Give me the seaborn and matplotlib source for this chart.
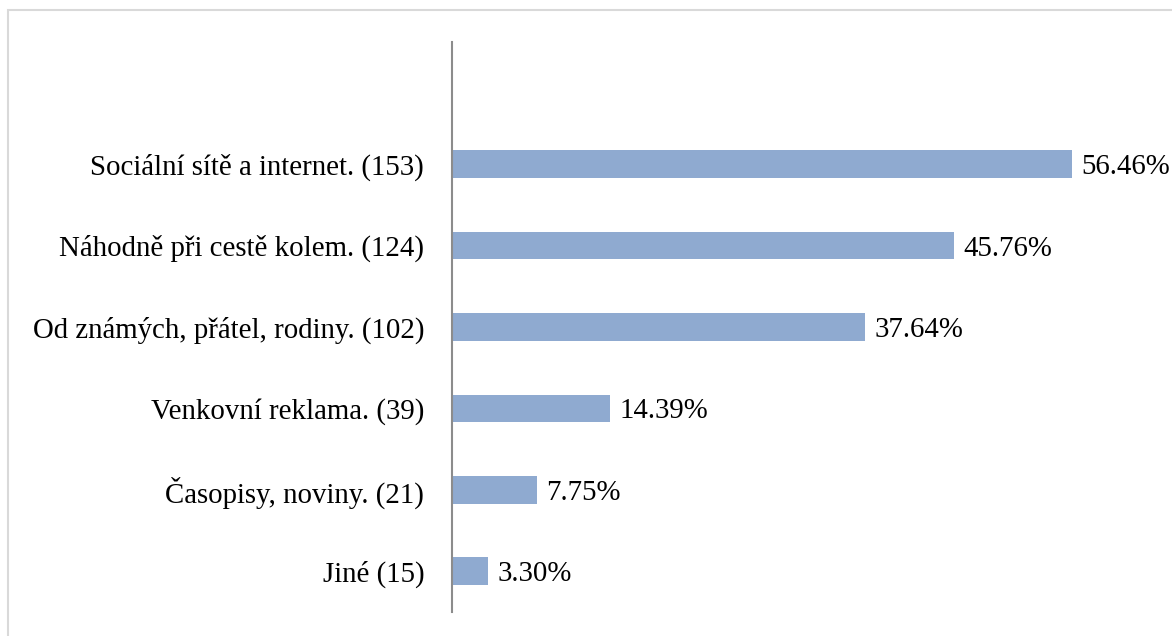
import matplotlib
matplotlib.use("Agg")
import matplotlib.pyplot as plt
import seaborn as sns
import pandas as pd
from matplotlib.patches import Rectangle

categories = [
    "Sociální sítě a internet. (153)",
    "Náhodně při cestě kolem. (124)",
    "Od známých, přátel, rodiny. (102)",
    "Venkovní reklama. (39)",
    "Časopisy, noviny. (21)",
    "Jiné (15)",
]
values = [56.46, 45.76, 37.64, 14.39, 7.75, 3.30]
value_labels = ["56.46%", "45.76%", "37.64%", "14.39%", "7.75%", "3.30%"]

sns.set_theme(style="white")
plt.rcParams['font.family'] = ['Liberation Serif', 'DejaVu Serif']

df = pd.DataFrame({"cat": categories, "val": values})

fig = plt.figure(figsize=(11.72, 6.36), dpi=100)
ax = fig.add_axes([452/1172, 1-612/636, (64*10.98)/1172, (612-42)/636])

sns.barplot(data=df, y="cat", x="val", orient="h", color="#8FAAD0",
            saturation=1, width=0.34, linewidth=0, ax=ax)

ax.set_xlim(0, 64)
ax.set_ylim(5.5, -1.5)
ax.set_xlabel("")
ax.set_ylabel("")
ax.set_xticks([])
for s in ["top", "right", "bottom"]:
    ax.spines[s].set_visible(False)
ax.spines["left"].set_color("#8c8c8c")
ax.spines["left"].set_linewidth(1.5)
ax.tick_params(axis="y", length=0, pad=20, labelsize=20.8, labelcolor="black")

for i, (v, lab) in enumerate(zip(values, value_labels)):
    ax.text(v + 0.85, i, lab, va="center_baseline", ha="left", fontsize=20.8,
            color="black", clip_on=False)

fig.patches.append(Rectangle((8/1172, -0.05), 1.1, 1-10/636 + 0.05,
                             transform=fig.transFigure, fill=False,
                             edgecolor="#d9d9d9", linewidth=1.5))

fig.savefig("out.png", dpi=100, facecolor="white")
